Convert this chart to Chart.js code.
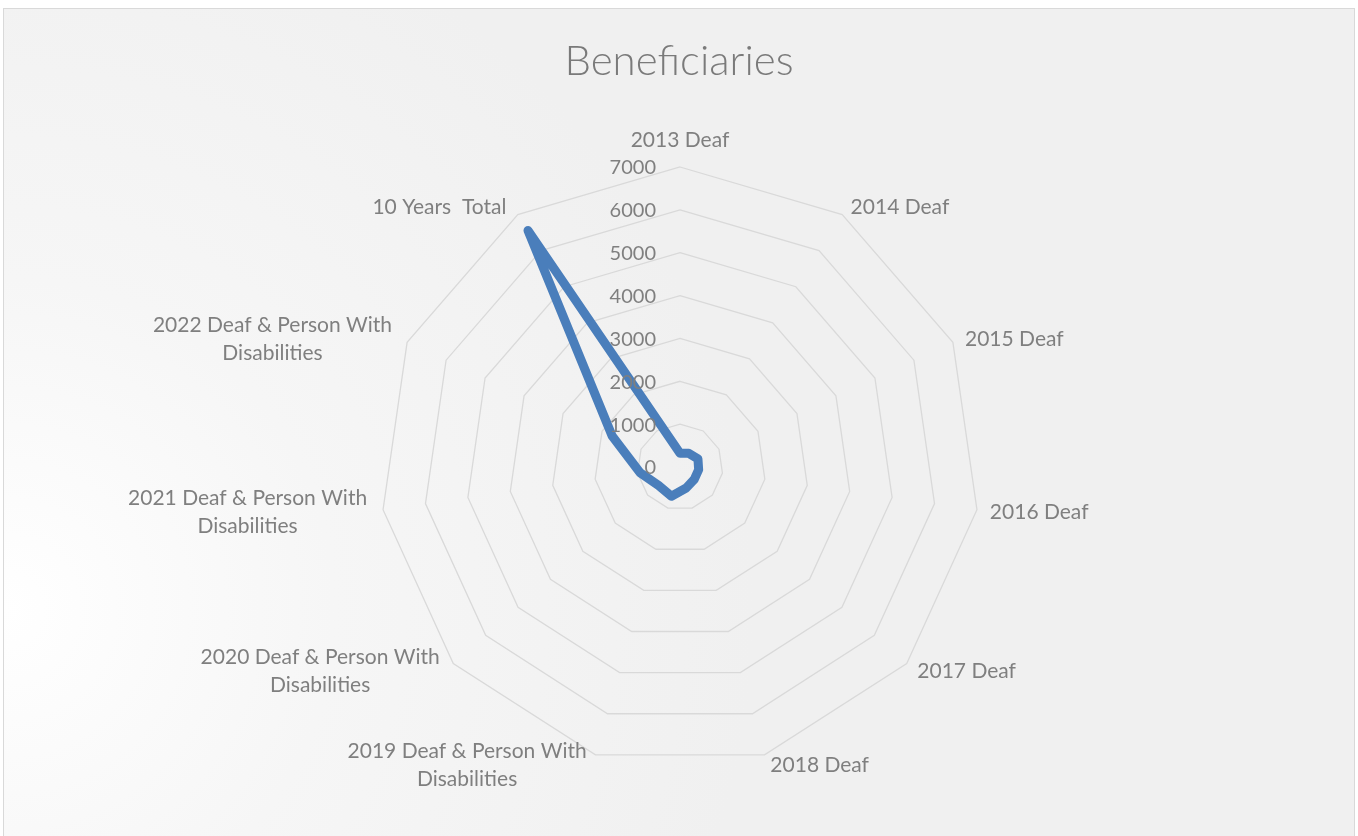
<!DOCTYPE html>
<html>
<head>
<meta charset="utf-8">
<script src="https://cdn.jsdelivr.net/npm/chart.js@4.4.0/dist/chart.umd.min.js"></script>
<style>
  html, body { margin: 0; padding: 0; background: #fff; }
  #frame {
    position: absolute; left: 3px; top: 8px; width: 1350px; height: 840px;
    border: 1px solid #d9d9d9;
    background: radial-gradient(circle at 0px 600px, #ffffff 0px, #f6f6f6 330px, #f0f0f0 750px);
  }
  #radar { position: absolute; left: 0; top: 0; }
</style>
</head>
<body>
<div id="frame"></div>
<canvas id="radar" width="1358" height="836"></canvas>
<script>
// categories around the radar, clockwise from the top
var categories = [
    "2013 Deaf",
    "2014 Deaf",
    "2015 Deaf",
    "2016 Deaf",
    "2017 Deaf",
    "2018 Deaf",
    ["2019 Deaf & Person With", "Disabilities"],
    ["2020 Deaf & Person With", "Disabilities"],
    ["2021 Deaf & Person With", "Disabilities"],
    ["2022 Deaf & Person With", "Disabilities"],
    "10 Years  Total"
];
var beneficiaries = [320, 380, 460, 440, 440, 510, 710, 660, 940, 1740, 6560];
var tickMin = 0, tickMax = 7000, tickStep = 1000;

var labelFont = '21px Lato';
var textGrey = '#7f7f7f';

// excel-style labels: tick numbers left of the axis, category text beside each corner
var excelLabels = {
    id: 'excelLabels',
    afterDraw: function(chart) {
        var scale = chart.scales.r;
        var ctx = chart.ctx;
        ctx.save();
        ctx.font = '20px Lato';
        ctx.fillStyle = textGrey;
        ctx.textBaseline = 'middle';

        ctx.textAlign = 'right';
        scale.ticks.forEach(function(t) {
            var d = scale.getDistanceFromCenterForValue(t.value);
            ctx.fillText(String(t.value), scale.xCenter - 24, scale.yCenter - d + 1);
        });

        ctx.font = labelFont;
        ctx.textAlign = 'center';
        categories.forEach(function(lab, i) {
            var lines = Array.isArray(lab) ? lab : [lab];
            var p = scale.getPointPosition(i, scale.drawingArea + 10);
            var w = Math.max.apply(null, lines.map(function(l) { return ctx.measureText(l).width; }));
            var cx, cy = p.y + 1;
            if (i === 0) { cx = p.x; cy = p.y - 17; }
            else if (p.x > scale.xCenter) cx = p.x + 3 + w / 2;
            else cx = p.x - 6 - w / 2;
            lines.forEach(function(l, j) {
                ctx.fillText(l, cx, cy + (j - (lines.length - 1) / 2) * 28);
            });
        });
        ctx.restore();
    }
};

var radar = document.getElementById("radar").getContext("2d");
new Chart(radar, {
    type: 'radar',
    data: {
        labels: categories,
        datasets: [{
            label: 'Beneficiaries',
            data: beneficiaries,
            borderColor: '#4a7ebb',
            borderWidth: 9,
            borderJoinStyle: 'round',
            pointRadius: 0,
            fill: false,
            tension: 0
        }]
    },
    options: {
        responsive: false,
        animation: false,
        plugins: {
            legend: { display: false },
            tooltip: { enabled: false },
            title: {
                display: true,
                text: 'Beneficiaries',
                color: '#7a7a7a',
                font: { family: 'Lato', size: 42, weight: 300 },
                padding: { top: 36, bottom: 10 }
            }
        },
        scales: {
            r: {
                min: tickMin,
                max: tickMax,
                ticks: { stepSize: tickStep, display: false },
                grid: { color: '#d9d9d9', lineWidth: 1.3 },
                angleLines: { display: false },
                pointLabels: { display: false },
                afterFit: function(scale) {
                    scale.xCenter = 680;
                    scale.yCenter = 467;
                    scale.drawingArea = 300;
                }
            }
        }
    },
    plugins: [excelLabels]
});
</script>
</body>
</html>
